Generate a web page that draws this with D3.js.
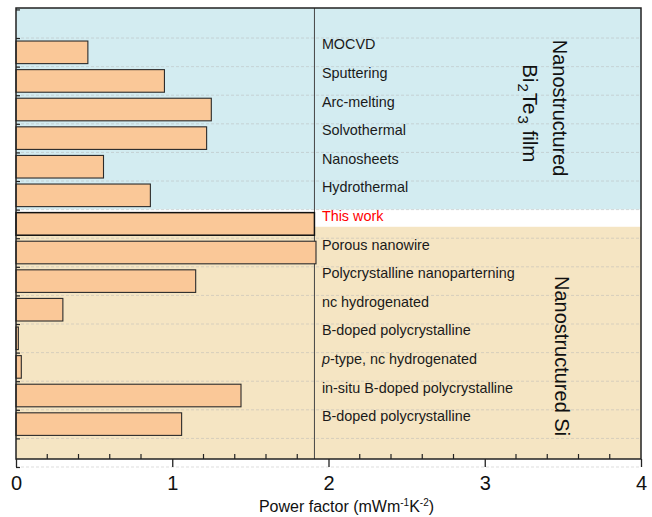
<!DOCTYPE html>
<html>
<head>
<meta charset="utf-8">
<script src="https://cdn.jsdelivr.net/npm/d3@7"></script>
<style>
  html, body { margin: 0; padding: 0; background: #ffffff; }
  svg { display: block; font-family: "Liberation Sans", Arial, sans-serif; }
</style>
</head>
<body>
<svg id="chart" width="652" height="517"></svg>
<script>
// Preparation methods, listed top to bottom
const categories = [
  "MOCVD", "Sputtering", "Arc-melting", "Solvothermal", "Nanosheets", "Hydrothermal",
  "This work",
  "Porous nanowire", "Polycrystalline nanoparterning", "nc hydrogenated",
  "B-doped polycrystalline", "p-type, nc hydrogenated",
  "in-situ B-doped polycrystalline", "B-doped polycrystalline"
];
// Power factor, mW m^-1 K^-2
const powerFactor = [0.46, 0.95, 1.25, 1.22, 0.56, 0.86, 1.91, 1.92, 1.15, 0.30, 0.015, 0.034, 1.44, 1.06];
const highlighted = ["This work"];
const xTicks = [0, 1, 2, 3, 4];
// Material families: first and last slot (in row units) of each shaded band
const groupNames = ["Nanostructured Bi2Te3 film", "This work", "Nanostructured Si"];
const groupStart = [-0.05, 7, 7.6];
const groupEnd = [7, 7.6, 15.72];
const groupFill = ["#d3ecf1", "#ffffff", "#f5e5c3"];

const svg = d3.select("#chart");
const plotLeft = 16, plotRight = 641, plotTop = 8, plotBottom = 459;

const x = d3.scaleLinear().domain([0, 4]).range([plotLeft, plotRight]);
// one row per slot; slot 0 is left empty above the first bar
const y = d3.scaleLinear().domain([-0.05, 15.72]).range([plotTop, plotBottom]);
const rowOf = i => i + 1;

// shaded family bands
svg.append("g").selectAll("rect").data(groupNames).join("rect")
  .attr("x", plotLeft).attr("width", plotRight - plotLeft)
  .attr("y", (d, i) => y(groupStart[i]))
  .attr("height", (d, i) => y(groupEnd[i]) - y(groupStart[i]))
  .attr("fill", (d, i) => groupFill[i]);

// dashed row separators
const rows = d3.range(1, 17);
svg.append("g").selectAll("line").data(rows).join("line")
  .attr("x1", plotLeft).attr("x2", plotRight)
  .attr("y1", d => y(d)).attr("y2", d => y(d))
  .attr("stroke", "#b5b5b5").attr("stroke-opacity", 0.6)
  .attr("stroke-width", 0.8).attr("stroke-dasharray", "3,2");

// reference line at this work's power factor
const ref = powerFactor[categories.indexOf("This work")];
svg.append("line")
  .attr("x1", x(ref)).attr("x2", x(ref))
  .attr("y1", plotTop).attr("y2", plotBottom)
  .attr("stroke", "#444").attr("stroke-width", 1);

// bars
const barPad = 0.105;
svg.append("g").selectAll("rect").data(categories).join("rect")
  .attr("x", x(0))
  .attr("y", (d, i) => y(rowOf(i) + barPad))
  .attr("width", (d, i) => x(powerFactor[i]) - x(0))
  .attr("height", y(1 - barPad) - y(barPad))
  .attr("fill", "#fac898")
  .attr("stroke", d => highlighted.includes(d) ? "#111" : "#2b2b2b")
  .attr("stroke-width", d => highlighted.includes(d) ? 1.5 : 1.1);

// method labels
const labels = svg.append("g").attr("font-size", 14.4);
categories.forEach((name, i) => {
  const t = labels.append("text")
    .attr("x", x(1.9) + 9)
    .attr("y", y(rowOf(i) + 0.5) - 3)
    .attr("fill", highlighted.includes(name) ? "#ff0000" : "#1a1a1a");
  if (name.startsWith("p-type")) {
    t.append("tspan").attr("font-style", "italic").text("p");
    t.append("tspan").text(name.slice(1));
  } else {
    t.text(name);
  }
});

// family titles, rotated
const famG = svg.append("g").attr("font-size", 20).attr("fill", "#111");
famG.append("text")
  .attr("transform", `translate(553,${y(3.45)}) rotate(90)`)
  .attr("text-anchor", "middle").text("Nanostructured");
const bt = famG.append("text")
  .attr("transform", `translate(523,${y(3.63)}) rotate(90)`)
  .attr("text-anchor", "middle").attr("font-size", 20.5);
bt.append("tspan").text("Bi");
bt.append("tspan").attr("font-size", 15).attr("dx", 1).attr("dy", 5).text("2");
bt.append("tspan").attr("dx", 1).attr("dy", -5).text("Te");
bt.append("tspan").attr("font-size", 15).attr("dx", 1).attr("dy", 5).text("3");
bt.append("tspan").attr("dx", 1).attr("dy", -5).text(" film");
famG.append("text")
  .attr("transform", `translate(555,${y(12.12)}) rotate(90)`)
  .attr("text-anchor", "middle").text("Nanostructured Si");

// x axis: outward major ticks, inward minor ticks
const xAxis = d3.axisBottom(x).tickValues(xTicks).tickFormat(d3.format("d"))
  .tickSizeInner(8).tickSizeOuter(0).tickPadding(9);
const gx = svg.append("g").attr("transform", `translate(0,${plotBottom})`).call(xAxis);
gx.select(".domain").remove();
gx.selectAll(".tick line").attr("stroke", "#222").attr("stroke-width", 1.3);
gx.selectAll(".tick text").attr("font-size", 20).attr("fill", "#111")
  .attr("font-family", "'Liberation Sans', Arial, sans-serif");
const minor = d3.range(0, 4.001, 0.2).filter(v => Math.abs(v - Math.round(v)) > 1e-6);
svg.append("g").selectAll("line").data(minor).join("line")
  .attr("x1", d => x(d)).attr("x2", d => x(d))
  .attr("y1", plotBottom).attr("y2", plotBottom - 5)
  .attr("stroke", "#222").attr("stroke-width", 1.2);

// y axis: unlabeled inward ticks at slot boundaries
const yAxis = d3.axisLeft(y).tickValues(d3.range(0, 17)).tickFormat("")
  .tickSizeInner(-4).tickSizeOuter(0);
const gy = svg.append("g").attr("transform", `translate(${plotLeft},0)`).call(yAxis);
gy.select(".domain").remove();
gy.selectAll(".tick line").attr("stroke", "#222").attr("stroke-width", 1.2);

// frame
svg.append("rect")
  .attr("x", plotLeft).attr("y", plotTop)
  .attr("width", plotRight - plotLeft).attr("height", plotBottom - plotTop)
  .attr("fill", "none").attr("stroke", "#222").attr("stroke-width", 1.5);

// axis title
const title = svg.append("text")
  .attr("x", (plotLeft + plotRight) / 2 + 18).attr("y", 512)
  .attr("text-anchor", "middle").attr("font-size", 16).attr("fill", "#111");
title.append("tspan").text("Power factor (mWm");
title.append("tspan").attr("font-size", 10).attr("dy", -6).text("-1");
title.append("tspan").attr("dy", 6).text("K");
title.append("tspan").attr("font-size", 10).attr("dy", -6).text("-2");
title.append("tspan").attr("dy", 6).text(")");
</script>
</body>
</html>
